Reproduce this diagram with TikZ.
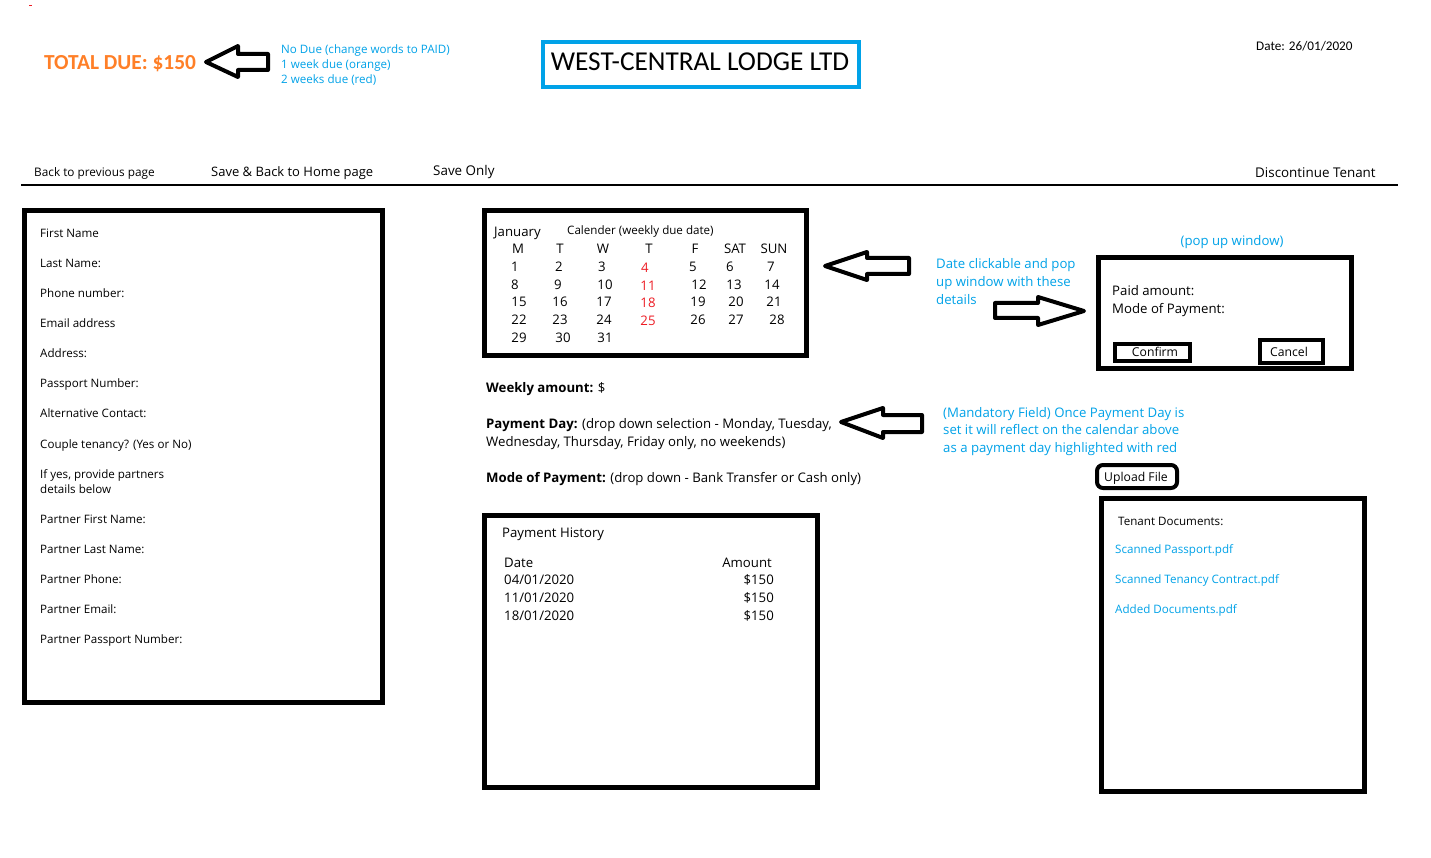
\documentclass[tikz,border=0pt]{standalone}
\usepackage{fontspec}
\setmainfont{Open Sans}
\newfontfamily\calfont{Carlito}
\definecolor{mblue}{RGB}{0,162,232}
\definecolor{morange}{RGB}{255,127,39}
\definecolor{mred}{RGB}{237,28,36}
\tikzset{
  txt/.style={inner sep=0pt, anchor=mid west, yshift=-2.5pt},
  ctr/.style={inner sep=0pt, anchor=mid, yshift=-2.5pt},
  btntxt/.style={inner sep=0pt, anchor=mid, yshift=-1.3pt, font=\fontsize{12.2}{15}\selectfont},
  sm/.style={txt, font=\fontsize{11.6}{14}\selectfont},
  md/.style={txt, font=\fontsize{13.2}{16}\selectfont},
  calnum/.style={ctr, font=\fontsize{13.2}{16}\selectfont},
  thickbox/.style={draw=black, line width=5pt},
  btnbox/.style={draw=black, line width=4pt},
  blockarrow/.style={draw=black, line width=4pt, line join=round},
  bluetxt/.style={text=mblue},
}
\begin{document}
\begin{tikzpicture}[x=1pt,y=-1pt]
\useasboundingbox[fill=white] (0,0) rectangle (1431,858);
% tiny red mark
\draw[mred, line width=1pt] (29,6) -- (31.5,6);

% header
\node[txt, yshift=-2.5pt, font=\calfont\bfseries\fontsize{21.4}{25}\selectfont, text=morange] (total) at (44,62) {TOTAL DUE: \$150};
\draw[blockarrow] (206,62) -- (238,46) -- (238,54) -- (268,54) -- (268,70) -- (238,70) -- (238,77) -- cycle;
\node[sm, bluetxt] (due1) at (281,48) {No Due (change words to PAID)};
\node[sm, bluetxt] (due2) at (281,63) {1 week due (orange)};
\node[sm, bluetxt] (due3) at (281,78) {2 weeks due (red)};

\draw[mblue, line width=4pt] (543,42) rectangle (859,87);
\node[inner sep=0pt, font=\calfont\fontsize{27.3}{31}\selectfont] (title) at (700,62) {WEST-CENTRAL LODGE LTD};
\node[txt, font=\calfont\fontsize{13.2}{16}\selectfont] (date) at (1256,45) {Date: 26/01/2020};

% navigation
\node[sm, font=\fontsize{11.8}{14}\selectfont] (nav1) at (34,171) {Back to previous page};
\node[md, font=\fontsize{13}{16}\selectfont] (nav2) at (211,171) {Save \& Back to Home page};
\node[md, font=\fontsize{13.4}{16}\selectfont] (nav3) at (433,170) {Save Only};
\node[md, font=\fontsize{13.4}{16}\selectfont] (nav4) at (1255,172) {Discontinue Tenant};
\draw[line width=1.3pt] (21,185) -- (1398,185);

% tenant form
\draw[thickbox] (24.5,210.5) rectangle (382.5,702.5);
\node[sm] (f1) at (40,232) {First Name};
\node[sm] (f2) at (40,262) {Last Name:};
\node[sm] (f3) at (40,292) {Phone number:};
\node[sm] (f4) at (40,322) {Email address};
\node[sm] (f5) at (40,352) {Address:};
\node[sm] (f6) at (40,382) {Passport Number:};
\node[sm] (f7) at (40,412) {Alternative Contact:};
\node[sm] (f8) at (40,443) {Couple tenancy? (Yes or No)};
\node[sm] (f9a) at (40,473) {If yes, provide partners};
\node[sm] (f9b) at (40,488) {details below};
\node[sm] (p1) at (40,518) {Partner First Name:};
\node[sm] (p2) at (40,548) {Partner Last Name:};
\node[sm] (p3) at (40,578) {Partner Phone:};
\node[sm] (p4) at (40,608) {Partner Email:};
\node[sm] (p5) at (40,638) {Partner Passport Number:};

% calendar
\draw[thickbox] (484.5,210.5) rectangle (806.5,355.5);
\node[md] (jan) at (494,231) {January};
\node[sm] (calt) at (567,229) {Calender (weekly due date)};
\foreach \t/\x in {M/518,T/560,W/603,T/649,F/695,SAT/735,SUN/774}
  \node[calnum] at (\x,248) {\t};
\foreach \t/\x in {1/515,2/559,3/602,5/693,6/730,7/771}
  \node[calnum] at (\x,266) {\t};
\foreach \t/\x in {8/515,9/558,10/605,12/699,13/734,14/772}
  \node[calnum] at (\x,284) {\t};
\foreach \t/\x in {15/519,16/560,17/604,19/698,20/736,21/774}
  \node[calnum] at (\x,301) {\t};
\foreach \t/\x in {22/519,23/560,24/604,26/698,27/736,28/777}
  \node[calnum] at (\x,319) {\t};
\foreach \t/\x in {29/519,30/563,31/605}
  \node[calnum] at (\x,337) {\t};
\node[calnum, text=mred] (d4) at (645,267) {4};
\node[calnum, text=mred] (d11) at (648,285) {11};
\node[calnum, text=mred] (d18) at (648,302) {18};
\node[calnum, text=mred] (d25) at (648,320) {25};

\draw[blockarrow] (825,266) -- (867,252) -- (867,258) -- (909,258) -- (909,274) -- (867,274) -- (867,280) -- cycle;

% popup note
\node[md, bluetxt] (c1) at (936,263) {Date clickable and pop};
\node[md, bluetxt] (c2) at (936,281) {up window with these};
\node[md, bluetxt] (c3) at (936,299) {details};
\draw[blockarrow] (1084,311) -- (1038,297) -- (1038,303) -- (995,303) -- (995,318) -- (1038,318) -- (1038,325) -- cycle;

\node[ctr, font=\fontsize{13.2}{16}\selectfont, text=mblue] (popt) at (1232,240) {(pop up window)};
\draw[thickbox] (1098.5,257.5) rectangle (1351.5,368.5);
\node[md] (paid) at (1112,290) {Paid amount:};
\node[md] (mode) at (1112,308) {Mode of Payment:};
\draw[btnbox] (1115,344) rectangle (1190,361);
\node[btntxt] (confirm) at (1155,353) {Confirm};
\draw[btnbox] (1260,340) rectangle (1323,363);
\node[btntxt] (cancel) at (1289,353) {Cancel};

% payment fields
\node[md] (weekly) at (486,387) {\textbf{Weekly amount:} \$};
\node[md] (pd1) at (486,423) {\textbf{Payment Day:} (drop down selection - Monday, Tuesday,};
\node[md] (pd2) at (486,441) {Wednesday, Thursday, Friday only, no weekends)};
\node[md] (mop) at (486,477) {\textbf{Mode of Payment:} (drop down - Bank Transfer or Cash only)};
\draw[blockarrow] (841,422) -- (883,408) -- (883,415) -- (922,415) -- (922,432) -- (883,432) -- (883,438) -- cycle;

\node[md, bluetxt] (m1) at (943,412) {(Mandatory Field) Once Payment Day is};
\node[md, bluetxt] (m2) at (943,429) {set it will reflect on the calendar above};
\node[md, bluetxt] (m3) at (943,447) {as a payment day highlighted with red};

% upload + documents
\draw[line width=4pt, rounded corners=6pt] (1097,465) rectangle (1177,488);
\node[ctr, font=\fontsize{12.2}{14}\selectfont] (upload) at (1136,476) {Upload File};
\draw[thickbox] (1101.5,498.5) rectangle (1364.5,791.5);
\node[sm] (tdoc) at (1118,520) {Tenant Documents:};
\node[sm, bluetxt] (doc1) at (1115,548) {Scanned Passport.pdf};
\node[sm, bluetxt] (doc2) at (1115,578) {Scanned Tenancy Contract.pdf};
\node[sm, bluetxt] (doc3) at (1115,608) {Added Documents.pdf};

% payment history
\draw[thickbox] (484.5,515.5) rectangle (817.5,787.5);
\node[md] (ph) at (502,532) {Payment History};
\node[md] (hdate) at (504,562) {Date};
\node[md, anchor=mid east] (hamt) at (772,562) {Amount};
\node[md] (r1) at (504,579) {04/01/2020};
\node[md] (r2) at (504,597) {11/01/2020};
\node[md] (r3) at (504,615) {18/01/2020};
\node[md, anchor=mid east] (a1) at (774,579) {\$150};
\node[md, anchor=mid east] (a2) at (774,597) {\$150};
\node[md, anchor=mid east] (a3) at (774,615) {\$150};
\end{tikzpicture}
\end{document}
